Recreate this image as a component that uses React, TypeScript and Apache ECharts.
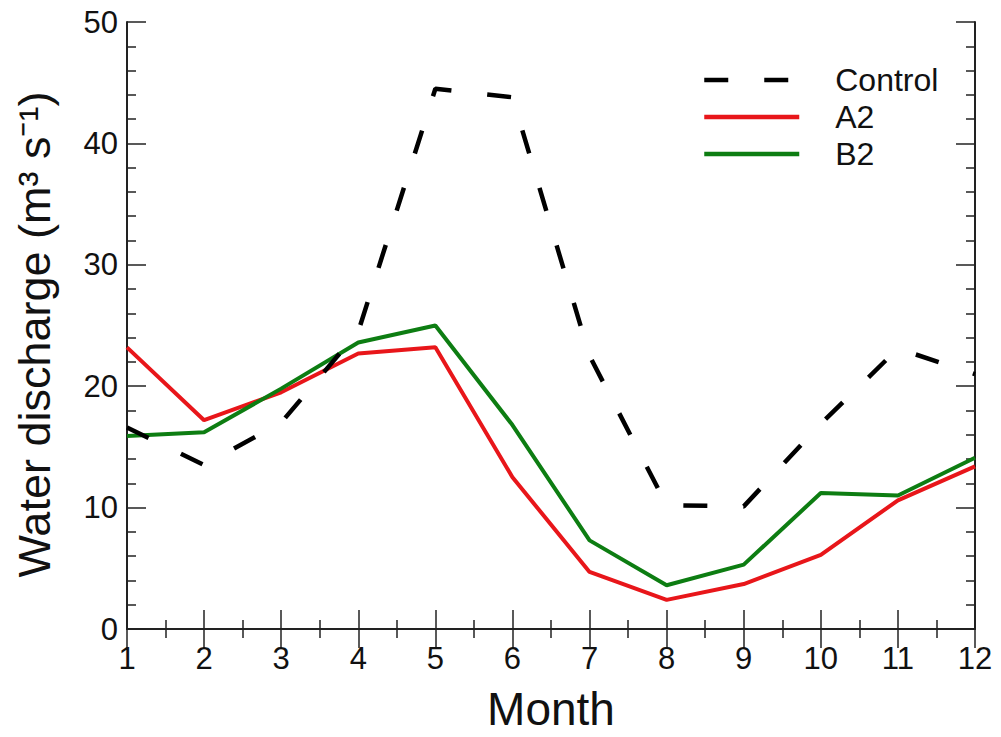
import React, { useEffect, useRef } from "react";
import * as echarts from "echarts";

const months = [1, 2, 3, 4, 5, 6, 7, 8, 9, 10, 11, 12];
const controlValues = [16.6, 13.5, 17.0, 24.5, 44.5, 43.8, 22.5, 10.2, 10.1, 16.9, 23.1, 21.0];
const a2Values = [23.2, 17.2, 19.5, 22.7, 23.2, 12.5, 4.7, 2.4, 3.7, 6.1, 10.6, 13.4];
const b2Values = [15.9, 16.2, 19.8, 23.6, 25.0, 16.8, 7.3, 3.6, 5.3, 11.2, 11.0, 14.1];
const seriesNames = ["Control", "A2", "B2"];
const yTicks = [0, 10, 20, 30, 40, 50];

const pair = (vals: number[]) => months.map((m, i) => [m, vals[i]]);

export default function App() {
  const ref = useRef<HTMLDivElement>(null);
  useEffect(() => {
    const chart = echarts.init(ref.current!, null, { renderer: "svg" });
    const axisLine = { show: true, lineStyle: { color: "#222", width: 2 } };
    const tickStyle = { color: "#222", width: 1.5 };
    const font = "Liberation Sans, Arial, sans-serif";
    chart.setOption({
      animation: false,
      backgroundColor: "#fff",
      grid: { left: 127, top: 22, right: 26, bottom: 105, containLabel: false },
      legend: {
        data: seriesNames,
        orient: "vertical",
        left: 697,
        top: 59,
        itemWidth: 95,
        itemHeight: 32,
        itemGap: 5,
        itemStyle: { opacity: 0 },
        lineStyle: { width: 4.5 },
        textStyle: { fontSize: 32, color: "#111", fontFamily: font, padding: [0, 0, 0, 31] },
      },
      xAxis: [
        {
          type: "value",
          min: 1,
          max: 12,
          interval: 1,
          position: "bottom",
          axisLine,
          axisTick: { show: true, inside: true, length: 19, lineStyle: tickStyle },
          minorTick: { show: true, splitNumber: 2, length: 9, lineStyle: tickStyle },
          splitLine: { show: false },
          axisLabel: { fontSize: 31, color: "#111", margin: 14, fontFamily: font },
          name: "Month",
          nameLocation: "middle",
          nameGap: 57,
          nameTextStyle: { fontSize: 46, color: "#111", fontFamily: font },
        },
        {
          type: "value",
          min: 1,
          max: 12,
          interval: 1,
          position: "top",
          axisLine,
          axisTick: { show: true, inside: true, length: 19, lineStyle: tickStyle },
          minorTick: { show: true, splitNumber: 2, length: 9, lineStyle: tickStyle },
          splitLine: { show: false },
          axisLabel: { show: false },
        },
      ],
      yAxis: [
        {
          type: "value",
          min: 0,
          max: 50,
          interval: 10,
          position: "left",
          axisLine,
          axisTick: { show: true, inside: true, length: 19, lineStyle: tickStyle },
          minorTick: { show: true, splitNumber: 5, length: 9, lineStyle: tickStyle },
          splitLine: { show: false },
          axisLabel: {
            fontSize: 31,
            color: "#111",
            margin: 9,
            fontFamily: font,
            formatter: (v: number) => (yTicks.includes(v) ? String(v) : ""),
          },
          name: "Water discharge (m³ s⁻¹)",
          nameLocation: "middle",
          nameGap: 70,
          nameTextStyle: { fontSize: 45, color: "#111", fontFamily: font, padding: [0, 18, 0, 0] },
        },
        {
          type: "value",
          min: 0,
          max: 50,
          interval: 10,
          position: "right",
          axisLine,
          axisTick: { show: true, inside: true, length: 19, lineStyle: tickStyle },
          minorTick: { show: true, splitNumber: 5, length: 9, lineStyle: tickStyle },
          splitLine: { show: false },
          axisLabel: { show: false },
        },
      ],
      series: [
        {
          name: seriesNames[0],
          type: "line",
          data: pair(controlValues),
          symbol: "none",
          color: "#000",
          lineStyle: { color: "#000", width: 4.5, type: [24, 36] },
          z: 3,
        },
        {
          name: seriesNames[1],
          type: "line",
          data: pair(a2Values),
          symbol: "none",
          color: "#e8161a",
          lineStyle: { color: "#e8161a", width: 4 },
          z: 2,
        },
        {
          name: seriesNames[2],
          type: "line",
          data: pair(b2Values),
          symbol: "none",
          color: "#0d7d12",
          lineStyle: { color: "#0d7d12", width: 4 },
          z: 2,
        },
      ],
    });
    return () => chart.dispose();
  }, []);
  return (
    <div
      ref={ref}
      style={{ position: "fixed", left: 0, top: 0, width: 1001, height: 737, background: "#fff" }}
    />
  );
}
